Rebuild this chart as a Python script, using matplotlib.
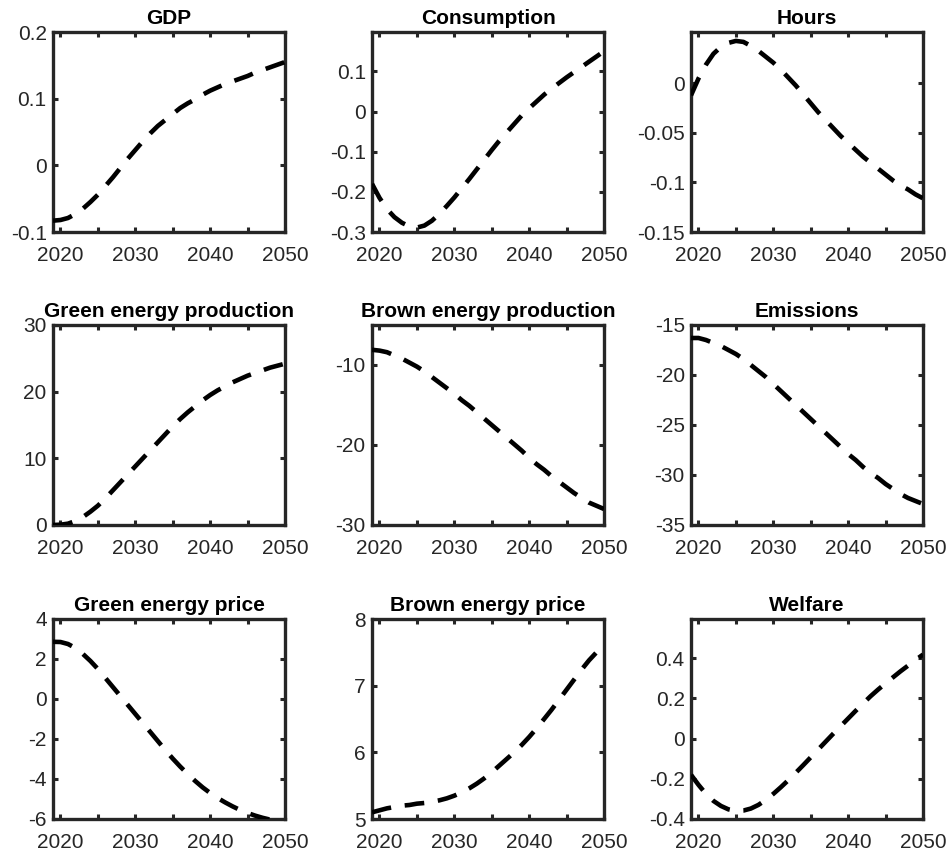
import matplotlib
matplotlib.use("Agg")
import matplotlib.pyplot as plt
import numpy as np

years = list(range(2019, 2051))

gdp = [-0.083, -0.082, -0.079, -0.073, -0.065, -0.055, -0.044, -0.031, -0.018, -0.004,
       0.010, 0.023, 0.036, 0.048, 0.059, 0.068, 0.077, 0.086, 0.093, 0.099,
       0.106, 0.112, 0.117, 0.122, 0.126, 0.130, 0.134, 0.139, 0.143, 0.147, 0.151, 0.155]
consumption = [-0.180, -0.215, -0.243, -0.263, -0.277, -0.286, -0.289, -0.284, -0.272, -0.255,
               -0.235, -0.214, -0.191, -0.168, -0.144, -0.120, -0.096, -0.073, -0.052, -0.031,
               -0.010, 0.008, 0.025, 0.042, 0.057, 0.071, 0.085, 0.098, 0.111, 0.124, 0.137, 0.150]
hours = [-0.012, 0.005, 0.019, 0.030, 0.037, 0.041, 0.043, 0.042, 0.038, 0.033,
         0.027, 0.021, 0.014, 0.006, -0.002, -0.011, -0.020, -0.029, -0.037, -0.045,
         -0.053, -0.060, -0.067, -0.074, -0.080, -0.086, -0.092, -0.098, -0.103, -0.107, -0.112, -0.116]
green_prod = [0.0, 0.05, 0.2, 0.6, 1.2, 2.0, 2.9, 4.0, 5.2, 6.4,
              7.6, 8.8, 10.0, 11.2, 12.4, 13.6, 14.8, 15.9, 16.9, 17.8,
              18.7, 19.5, 20.2, 20.8, 21.4, 21.9, 22.4, 22.8, 23.2, 23.6, 23.9, 24.2]
brown_prod = [-8.1, -8.2, -8.4, -8.8, -9.2, -9.7, -10.2, -10.8, -11.5, -12.2,
              -12.9, -13.6, -14.4, -15.1, -15.9, -16.7, -17.5, -18.3, -19.1, -19.9,
              -20.7, -21.6, -22.4, -23.1, -23.9, -24.6, -25.3, -26.0, -26.6, -27.2, -27.6, -28.0]
emissions = [-16.3, -16.3, -16.5, -16.8, -17.1, -17.5, -17.9, -18.4, -19.0, -19.6,
             -20.2, -20.9, -21.6, -22.3, -23.0, -23.7, -24.4, -25.1, -25.8, -26.5,
             -27.2, -27.9, -28.5, -29.2, -29.8, -30.3, -30.9, -31.4, -31.9, -32.3, -32.6, -32.9]
green_price = [2.86, 2.85, 2.75, 2.55, 2.25, 1.9, 1.5, 1.05, 0.6, 0.15,
               -0.3, -0.75, -1.2, -1.65, -2.1, -2.55, -2.98, -3.38, -3.75, -4.1,
               -4.42, -4.7, -4.95, -5.17, -5.37, -5.55, -5.7, -5.83, -5.94, -6.03, -6.1, -6.15]
brown_price = [5.10, 5.13, 5.16, 5.18, 5.20, 5.21, 5.23, 5.24, 5.26, 5.28,
               5.31, 5.35, 5.40, 5.46, 5.53, 5.61, 5.70, 5.80, 5.90, 6.00,
               6.11, 6.23, 6.36, 6.50, 6.64, 6.79, 6.94, 7.09, 7.24, 7.38, 7.50, 7.60]
welfare = [-0.18, -0.23, -0.275, -0.31, -0.335, -0.352, -0.36, -0.358, -0.348, -0.33,
           -0.305, -0.275, -0.242, -0.207, -0.17, -0.132, -0.093, -0.054, -0.015, 0.024,
           0.062, 0.1, 0.138, 0.175, 0.211, 0.244, 0.275, 0.305, 0.335, 0.363, 0.391, 0.418]

titles = ["GDP", "Consumption", "Hours",
          "Green energy production", "Brown energy production", "Emissions",
          "Green energy price", "Brown energy price", "Welfare"]
series = [gdp, consumption, hours, green_prod, brown_prod, emissions,
          green_price, brown_price, welfare]
ylims = [(-0.1, 0.2), (-0.3, 0.198), (-0.15, 0.052),
         (0, 30), (-30, -5), (-35, -15),
         (-6, 4), (5, 8), (-0.4, 0.595)]
yticks = [[-0.1, 0, 0.1, 0.2], [-0.3, -0.2, -0.1, 0, 0.1], [-0.15, -0.1, -0.05, 0],
          [0, 10, 20, 30], [-30, -20, -10], [-35, -30, -25, -20, -15],
          [-6, -4, -2, 0, 2, 4], [5, 6, 7, 8], [-0.4, -0.2, 0, 0.2, 0.4]]
xticks = [2020, 2025, 2030, 2035, 2040, 2045, 2050]
xticklabels = ["2020", "", "2030", "", "2040", "", "2050"]

plt.rcParams['font.family'] = ['Liberation Sans', 'DejaVu Sans']
plt.rcParams['axes.unicode_minus'] = False

W, H = 949, 868
fig = plt.figure(figsize=(W / 100, H / 100), dpi=100)

col_left = [53, 372, 691]
row_top = [32, 325, 619]
aw, ah = 232, 200
axcol = '#262626'

def fmt(v):
    s = ('%.2f' % v).rstrip('0').rstrip('.')
    if s == '-0':
        s = '0'
    return s

for i in range(9):
    r, c = divmod(i, 3)
    ax = fig.add_axes([col_left[c] / W, 1 - (row_top[r] + ah) / H, aw / W, ah / H])
    ax.plot(years, series[i], color='black', lw=3.3, linestyle=(0, (4.3, 3.0)),
            dash_capstyle='butt', zorder=3)
    ax.set_xlim(2019, 2050)
    ax.set_ylim(*ylims[i])
    ax.set_xticks(xticks)
    ax.set_xticklabels(xticklabels)
    ax.set_yticks(yticks[i])
    ax.set_yticklabels([fmt(v) for v in yticks[i]])
    ax.tick_params(axis='both', direction='in', length=3.5, width=2.2, color=axcol,
                   labelcolor=axcol, labelsize=15, top=True, right=True)
    ax.tick_params(axis='x', pad=10)
    ax.tick_params(axis='y', pad=4.5)
    for sp in ax.spines.values():
        sp.set_linewidth(2.4)
        sp.set_color(axcol)
    ax.set_title(titles[i], fontsize=15, fontweight='bold', pad=6)

fig.savefig('out.png', dpi=100)
